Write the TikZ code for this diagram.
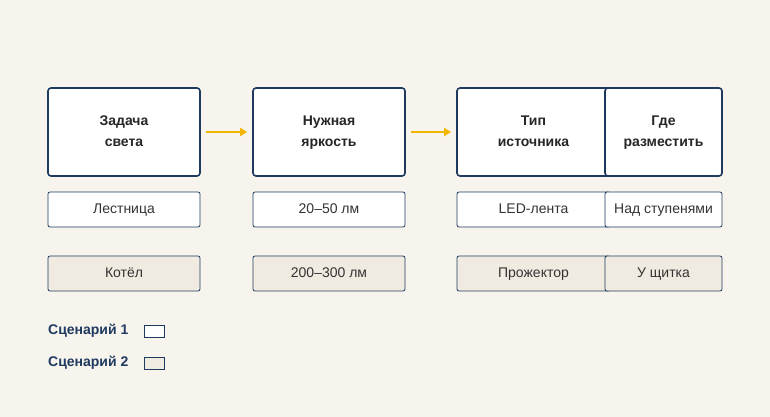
\documentclass[tikz,border=0pt]{standalone}
\usepackage{fontspec}
\setmainfont{Liberation Sans}
\usetikzlibrary{arrows.meta,positioning}
\definecolor{navy}{HTML}{1F3A5F}
\definecolor{paper}{HTML}{F7F4EE}
\definecolor{grey}{HTML}{F0EBE0}
\definecolor{amber}{HTML}{F2B705}
\newcommand{\hd}[2]{\strut #1\\\strut #2}
\begin{document}
\begin{tikzpicture}[x=1pt,y=-1pt,
		head/.style={draw=navy, line width=1.6pt, fill=white, rounded corners=3pt, inner sep=0pt,
			align=center, font=\fontsize{14}{21}\selectfont\bfseries, text=black!85},
		cell/.style={draw=navy, line width=0.8pt, rounded corners=2pt, inner sep=0pt,
			text height=10pt, text depth=3pt,
			font=\fontsize{14}{17}\selectfont, text=black!80},
		flow/.style={-{Triangle[length=7pt,width=8pt]}, amber, line width=2.2pt,
			shorten <=5pt, shorten >=5pt},
		legend/.style={font=\fontsize{14}{17}\selectfont\bfseries, text=navy, anchor=west, inner sep=0pt},
	]
		\fill[paper] (0,0) rectangle (770,417);

		\node[head, minimum width=152, minimum height=88] (task) at (124,132) {\hd{Задача}{света}};
		\node[head, minimum width=152, minimum height=88] (lux) at (329,132) {\hd{Нужная}{яркость}};
		\node[head, minimum width=153, minimum height=88] (type) at (533.5,132) {\hd{Тип}{источника}};
		\node[head, minimum width=117, minimum height=88] (place) at (663.5,132) {\hd{Где}{разместить}};

		\draw[flow] (task) -- (lux);
		\draw[flow] (lux) -- (type);

		% scenario 1
		\node[cell, fill=white, minimum width=152, minimum height=35] (s1a) at (124,209.5) {Лестница};
		\node[cell, fill=white, minimum width=152, minimum height=35] (s1b) at (329,209.5) {20–50 лм};
		\node[cell, fill=white, minimum width=153, minimum height=35] (s1c) at (533.5,209.5) {LED-лента};
		\node[cell, fill=white, minimum width=117, minimum height=35] (s1d) at (663.5,209.5) {Над ступенями};

		% scenario 2
		\node[cell, fill=grey, minimum width=152, minimum height=35] (s2a) at (124,273.5) {Котёл};
		\node[cell, fill=grey, minimum width=152, minimum height=35] (s2b) at (329,273.5) {200–300 лм};
		\node[cell, fill=grey, minimum width=153, minimum height=35] (s2c) at (533.5,273.5) {Прожектор};
		\node[cell, fill=grey, minimum width=117, minimum height=35] (s2d) at (663.5,273.5) {У щитка};

		% legend
		\node[legend] (leg1) at (48,331) {Сценарий 1};
		\draw[navy, line width=0.8pt, fill=white] (144,325) rectangle (164,337);
		\node[legend] (leg2) at (48,363) {Сценарий 2};
		\draw[navy, line width=0.8pt, fill=grey] (144,357) rectangle (164,369);
	\end{tikzpicture}
\end{document}
